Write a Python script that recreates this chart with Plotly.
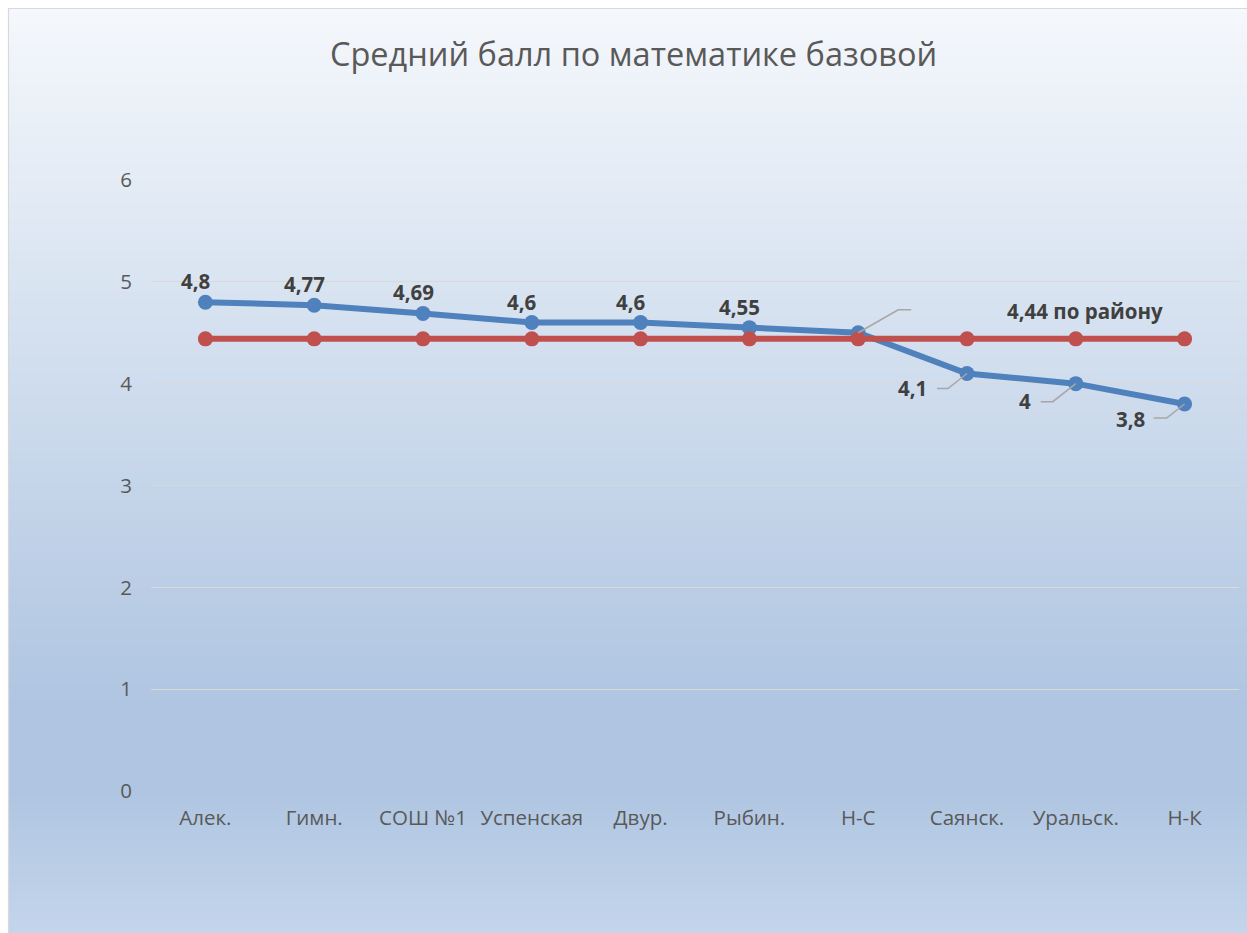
import plotly.graph_objects as go

# ---- data ----
categories = ["Алек.", "Гимн.", "СОШ №1", "Успенская", "Двур.", "Рыбин.", "Н-С", "Саянск.", "Уральск.", "Н-К"]
school_avg = [4.8, 4.77, 4.69, 4.6, 4.6, 4.55, 4.5, 4.1, 4.0, 3.8]
district_avg = [4.44] * 10
school_labels = ["4,8", "4,77", "4,69", "4,6", "4,6", "4,55", "", "4,1", "4", "3,8"]
district_label = "4,44 по району"
district_label_index = 8
title_text = "Средний балл по математике базовой"
y_ticks = [0, 1, 2, 3, 4, 5, 6]

W, H = 1247, 933
PL, PR, PT, PB = 151, 1239, 180, 791

BLUE = "#4f81bd"
RED = "#c0504d"
FONT = "Open Sans"

fig = go.Figure()
fig.add_trace(go.Scatter(x=list(range(len(categories))), y=school_avg, mode="lines+markers",
                         line=dict(color=BLUE, width=6), marker=dict(color=BLUE, size=15),
                         hoverinfo="skip", showlegend=False))
fig.add_trace(go.Scatter(x=list(range(len(categories))), y=district_avg, mode="lines+markers",
                         line=dict(color=RED, width=6), marker=dict(color=RED, size=15),
                         hoverinfo="skip", showlegend=False))

shapes = []
# background gradient (decoration)
stops = [(8, (245, 248, 252)), (705, (175, 197, 225)), (790, (175, 197, 225)), (950, (198, 215, 236))]
def col_at(py):
    if py <= stops[0][0]:
        return stops[0][1]
    for (a, ca), (b, cb) in zip(stops, stops[1:]):
        if py <= b:
            t = (py - a) / (b - a)
            return tuple(round(ca[i] + (cb[i] - ca[i]) * t) for i in range(3))
    return stops[-1][1]

step = 4
for py in range(8, H, step):
    c = col_at(py + step / 2)
    shapes.append(dict(type="rect", xref="paper", yref="paper", layer="below",
                       x0=8 / W, x1=1.0, y0=max(0.0, 1 - (py + step + 1.5) / H), y1=1 - py / H,
                       line=dict(width=0), fillcolor="rgb(%d,%d,%d)" % c))
# frame (left and top edges visible)
fx, fy = 8.5 / W, 1 - 8.5 / H
shapes.append(dict(type="path", xref="paper", yref="paper", layer="above",
                   path="M%f,0 L%f,%f L1,%f" % (fx, fx, fy, fy),
                   line=dict(color="#d9d9d9", width=1.2)))

# leader lines (pixel offsets anchored at data points)
leaders = {6: "M0,0 L40,23 L53,23", 7: "M0,0 L-19,-15 L-30,-15",
           8: "M0,0 L-23,-18 L-35,-18", 9: "M0,0 L-18,-14 L-31,-14"}
for i, p in leaders.items():
    shapes.append(dict(type="path", xref="x", yref="y", xsizemode="pixel", ysizemode="pixel",
                       xanchor=i, yanchor=school_avg[i], path=p,
                       line=dict(color="#a6a6a6", width=1.5), layer="above"))

annotations = []
label_font = dict(family=FONT, size=20.5, color="#404040", weight="bold")
offsets = {7: (-55, -15), 8: (-51, -17), 9: (-54, -15)}
for i, (v, t) in enumerate(zip(school_avg, school_labels)):
    if not t:
        continue
    dx, dy = offsets.get(i, (-10, 21))
    annotations.append(dict(x=i, y=v, xref="x", yref="y", text="<b>%s</b>" % t, showarrow=False,
                            xshift=dx, yshift=dy, font=label_font))
annotations.append(dict(x=district_label_index, y=district_avg[district_label_index], xref="x", yref="y",
                        text="<b>%s</b>" % district_label, showarrow=False, xshift=9, yshift=28,
                        font=label_font))
annotations.append(dict(x=633 / W, y=1 - 53 / H, xref="paper", yref="paper", text=title_text,
                        showarrow=False, xanchor="center", yanchor="middle",
                        font=dict(family=FONT, size=32.5, color="#595959")))

fig.update_layout(
    width=W, height=H, margin=dict(l=0, r=0, t=0, b=0, pad=0, autoexpand=False),
    paper_bgcolor="white", plot_bgcolor="rgba(0,0,0,0)",
    shapes=shapes, annotations=annotations,
    xaxis=dict(domain=[PL / W, PR / W], range=[-0.5, len(categories) - 0.5],
               tickmode="array", tickvals=list(range(len(categories))), ticktext=categories,
               showgrid=False, zeroline=False, showline=False, ticks="", automargin=False,
               tickfont=dict(family=FONT, size=20.5, color="#595959"), ticklabelstandoff=12),
    yaxis=dict(domain=[1 - PB / H, 1 - PT / H], range=[0, 6], tickvals=y_ticks, automargin=False,
               showgrid=True, gridcolor="#d9d9d9", gridwidth=1.3, zeroline=False, showline=False,
               ticks="", tickfont=dict(family=FONT, size=20.5, color="#595959"), ticklabelstandoff=18),
    showlegend=False,
)

post = (
    "var gd=document.getElementById('{plot_id}');"
    "gd.style.position='fixed';gd.style.top='0px';gd.style.left='0px';"
    "document.body.style.margin='0';document.body.style.padding='0';"
    "document.body.style.overflow='hidden';document.documentElement.style.overflow='hidden';"
)
fig.write_html("out.html", config={"displayModeBar": False}, post_script=post)
